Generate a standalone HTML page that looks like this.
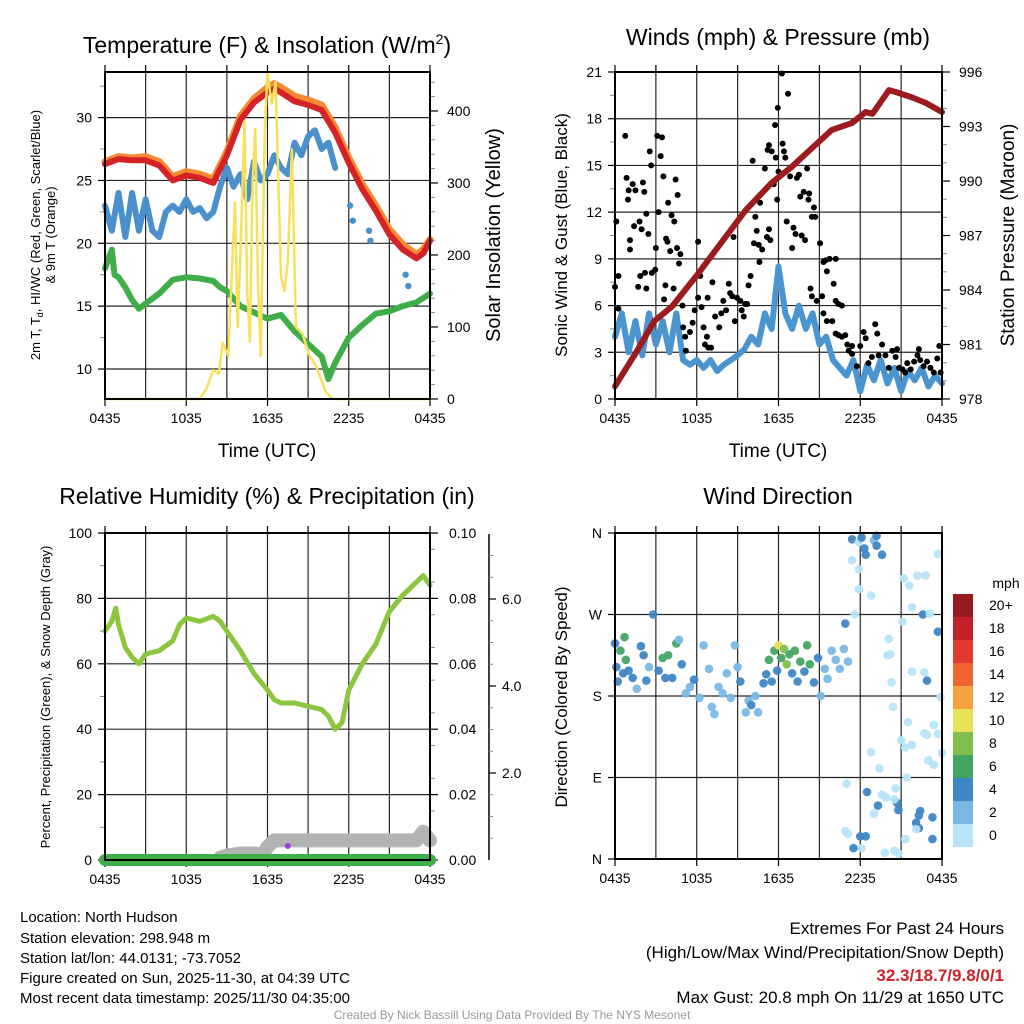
<!DOCTYPE html>
<html><head><meta charset="utf-8"><style>
html,body{margin:0;padding:0;background:#fff;}
svg{display:block;font-family:"Liberation Sans",Arial,sans-serif;}
</style></head><body>
<svg id="s" width="1024" height="1024" viewBox="0 0 1024 1024" xmlns="http://www.w3.org/2000/svg">
<g><text x="267" y="53" font-size="23" text-anchor="middle">Temperature (F) &amp; Insolation (W/m<tspan font-size="14" dy="-9">2</tspan><tspan dy="9">)</tspan></text></g>
<text x="778" y="45" font-size="23" text-anchor="middle">Winds (mph) &amp; Pressure (mb)</text>
<text x="267" y="504" font-size="23" text-anchor="middle">Relative Humidity (%) &amp; Precipitation (in)</text>
<text x="778" y="504" font-size="23" text-anchor="middle">Wind Direction</text>
<g font-size="13" text-anchor="middle">
<text transform="translate(40,235) rotate(-90)">2m T, T<tspan font-size="9" dy="3">d</tspan><tspan dy="-3">, HI/WC (Red, Green, Scarlet/Blue)</tspan></text>
<text transform="translate(55,235) rotate(-90)">&amp; 9m T (Orange)</text></g>
<text transform="translate(500,235) rotate(-90)" font-size="20" text-anchor="middle">Solar Insolation (Yellow)</text>
<text x="267" y="457" font-size="19" text-anchor="middle">Time (UTC)</text>
<text x="778" y="457" font-size="19" text-anchor="middle">Time (UTC)</text>
<text transform="translate(567,235) rotate(-90)" font-size="17" text-anchor="middle">Sonic Wind &amp; Gust (Blue, Black)</text>
<text transform="translate(1014,235) rotate(-90)" font-size="19" text-anchor="middle">Station Pressure (Maroon)</text>
<text transform="translate(50,697) rotate(-90)" font-size="13" text-anchor="middle">Percent, Precipitation (Green), &amp; Snow Depth (Gray)</text>
<text transform="translate(567,697) rotate(-90)" font-size="17" text-anchor="middle">Direction (Colored By Speed)</text>
<g font-size="15">
<text x="20" y="922">Location: North Hudson</text>
<text x="20" y="943">Station elevation: 298.948 m</text>
<text x="20" y="963">Station lat/lon: 44.0131; -73.7052</text>
<text x="20" y="983">Figure created on Sun, 2025-11-30, at 04:39 UTC</text>
<text x="20" y="1003">Most recent data timestamp: 2025/11/30 04:35:00</text></g>
<g font-size="17" text-anchor="end">
<text x="1004" y="934">Extremes For Past 24 Hours</text>
<text x="1004" y="958">(High/Low/Max Wind/Precipitation/Snow Depth)</text>
<text x="1004" y="981" fill="#cc2229" font-weight="bold">32.3/18.7/9.8/0/1</text>
<text x="1004" y="1003">Max Gust: 20.8 mph On 11/29 at 1650 UTC</text></g>
<text x="512" y="1019" font-size="12" fill="#999" text-anchor="middle">Created By Nick Bassill Using Data Provided By The NYS Mesonet</text>
<g id="p1"></g><g id="p2"></g><g id="p3"></g><g id="p4"></g>
</svg>
<script>
// ---- data ----
const xTickLabels = ["0435","1035","1635","2235","0435"];
const tempH = [0,1,2,3,4,4.5,5,6,7,8,9,10,11,12,12.5,13,14,15,16,17,18,19,20,21,22,23,23.5,24];
const temp2m = [26.3,26.7,26.6,26.6,26.2,25.6,25.0,25.4,25.2,24.8,27.0,29.8,31.2,32.0,32.3,32.0,31.3,31.0,30.6,28.8,26.4,24.3,22.6,20.7,19.5,18.8,19.2,20.2];
const temp9m = [26.5,26.9,26.8,26.9,26.5,25.9,25.3,25.7,25.5,25.1,27.3,30.1,31.5,32.4,32.7,32.4,31.7,31.4,31.0,29.2,26.8,24.7,23.0,21.1,19.9,19.1,19.5,20.3];
const dewH = [0,0.5,1,1.5,2,2.5,3,3.5,4,4.5,5,5.5,6,6.5,7,7.5,8,8.5,9,9.5,10,10.5,11,11.5,12,12.5,13,13.5,14,14.5,15,15.5,16,16.5,17];
const dewT = [23,21,24,20.5,24,21,23.5,21,20.5,22.5,23,22.5,23.5,22.5,22.8,22,22.5,24.5,26,24.5,25.5,23.5,26.5,25,25.5,27,26,25.5,28,27,28.5,29,27.5,28,26];
const dewLateH = [18.1,18.3,19.5,19.6,22.2,22.4];
const dewLateT = [23,21.8,21,20.2,17.5,16.6];
const wcH = [0,0.5,0.7,1,1.5,2,2.5,3,4,5,6,7,8,8.5,9,10,11,12,13,14,15,16,16.5,17,18,19,20,21,22,23,24];
const wcT = [18,19.5,17.5,17.3,16.5,15.5,14.8,15.2,16.0,17.1,17.3,17.2,17.0,16.5,16.2,15.0,14.5,14.0,14.3,13.0,12.0,11.0,9.2,10.5,12.5,13.5,14.4,14.6,15.0,15.3,16.0];
const solarH = [0,7.0,7.5,8.0,8.4,8.7,9.1,9.6,9.8,10.0,10.3,10.5,10.7,10.9,11.1,11.3,11.5,11.8,12.0,12.3,12.6,13.0,13.25,13.5,13.8,14.1,14.6,15.1,15.6,16.0,16.3,16.8,24];
const solarV = [0,0,15,40,35,78,60,273,100,200,386,150,80,300,375,160,60,372,454,410,440,170,150,190,347,100,90,60,45,25,10,0,0];
const windH = [0,0.5,1,1.5,2,2.5,3,3.5,4,4.5,5,5.5,6,6.5,7,7.5,8,8.5,9,9.5,10,10.5,11,11.5,12,12.5,13,13.5,14,14.5,15,15.5,16,16.5,17,17.5,18,18.5,19,19.5,20,20.5,21,21.5,22,22.5,23,23.5,24];
const windV = [4,5.5,3,5,2.8,5.5,3.5,5,3,5.5,2.5,2.2,2.5,2,2.5,1.8,2.2,2.5,2.8,3.2,4,3.5,5.5,4.5,8.5,5.5,4.5,6,4.5,5.5,3.5,4,2.5,2,1.5,2.5,0.5,2.2,1.2,2.5,1,2,0.5,1.8,1.2,2,0.8,1.5,1];
const presH = [0,1.5,2.9,4.2,6.1,7.4,9.6,11.5,13,14,15.9,17.4,18.4,18.9,20.1,20.6,21.8,22.8,24];
const presV = [978.7,980.5,982.3,983.1,984.9,986.2,988.4,989.9,990.8,991.5,992.8,993.2,993.8,993.7,995.0,994.9,994.6,994.3,993.8];
const gustH = [0.1,0,0.25,0.25,0.75,0.85,1.0,0.95,1.1,1.1,1.3,1.5,1.7,1.85,1.4,1.8,1.95,2.05,2.15,2.3,2.45,2.2,2.3,2.55,2.65,2.7,2.95,3.0,3.1,3.2,3.35,3.45,3.55,3.6,3.7,3.9,3.75,3.85,4.05,4.15,4.3,4.35,4.45,4.55,4.6,4.8,4.7,4.95,5.0,5.15,5.2,5.5,5.7,5.85,6.1,6.1,6.25,6.35,6.5,6.6,6.75,6.8,6.85,7.05,7.15,7.35,7.65,7.8,7.95,8.15,8.35,8.45,8.6,8.7,8.8,8.95,9.2,9.3,9.45,9.55,9.7,9.8,9.95,10.1,10.2,10.3,10.4,10.55,10.6,10.65,10.8,11.0,11.15,11.2,11.3,11.4,11.3,11.5,11.65,11.75,11.8,11.95,12.0,11.9,12.25,12.3,12.4,12.5,12.6,12.7,12.85,13.0,13.1,13.25,13.35,13.5,13.6,13.7,13.85,13.95,14.1,14.2,14.25,14.45,14.6,14.7,15.05,15.3,15.45,15.55,15.75,16.05,16.2,16.2,16.4,16.65,14.35,14.45,14.8,15.2,15.3,15.55,15.95,16.2,16.4,16.65,16.9,17.05,17.15,17.4,17.4,17.75,18.0,18.25,18.4,18.6,18.85,19.1,19.25,19.35,19.6,19.85,20.1,20.35,20.6,20.7,20.85,21.1,21.3,21.45,21.7,21.95,22.2,22.3,22.4,22.65,22.9,23.15,23.4,23.65,23.8,23.9];
const gustV = [11.4,7.2,7.9,5.8,16.9,14.2,13.4,12.8,10.2,9.6,13.8,13.4,7.2,7.9,11.1,11.4,10.9,13.9,13.3,11.9,10.6,8.1,7.1,15.9,15.0,8.1,8.3,9.7,16.9,12.0,15.6,16.8,14.3,6.4,7.3,12.6,10.3,10.1,9.5,11.8,7.1,11.4,14.1,9.7,13.1,9.3,8.7,6.0,4.6,4.0,3.1,4.3,4.9,5.7,6.5,10.1,7.9,5.9,4.6,3.5,4.0,6.5,3.3,3.3,7.5,5.3,4.6,5.5,6.3,5.7,7.4,6.8,6.6,10.4,5.0,6.5,6.3,5.7,5.3,6.1,6.1,7.3,7.9,15.3,10.0,11.7,10.8,9.9,8.8,12.6,9.6,14.8,10.4,16.0,10.9,10.2,16.3,15.9,13.8,17.6,15.5,18.7,14.6,12.8,20.9,16.4,15.9,15.5,11.4,19.6,14.3,9.7,11.0,10.6,14.2,14.4,13.0,10.5,13.3,10.2,14.8,12.8,13.2,11.7,12.3,11.7,10.0,8.8,8.9,8.2,9.0,7.4,9.0,6.3,6.1,6.0,7.1,6.6,6.3,6.6,5.5,5.0,5.0,4.2,4.1,4.0,4.1,3.5,3.1,3.4,2.9,2.1,3.4,4.3,3.9,2.3,2.7,4.8,4.2,2.8,3.5,2.8,2.0,3.1,2.7,3.2,2.0,1.9,1.7,2.3,1.9,2.4,2.8,3.2,2.5,2.1,2.4,2.0,1.7,2.6,3.4,1.7];
const rhH = [0,0.5,0.8,1,1.5,2,2.5,3,4,5,5.5,6,7,8,8.5,9,10,11,12,12.5,13,14,15,16,16.5,17,17.5,18,19,20,21,22,23,23.5,24];
const rhV = [70,73,77,72,65,62,60,63,64,67,72,74,73,74.5,73,70,64,57,52,49,48,48,47,46,44,40,42,52,60,66,76,81,85,87,84];
const precipH = [0,24];
const precipV = [0,0];
const snowH = [8.5,9,10,11,11.6,12,12.5,13,14,15,16,17,18,19,20,21,22,23,23.5,24];
const snowV = [0.05,0.1,0.15,0.15,0.12,0.3,0.45,0.45,0.45,0.45,0.45,0.45,0.45,0.45,0.45,0.45,0.45,0.45,0.65,0.45];
const dirH = [0,0.1,0.2,0.4,0.6,0.7,0.8,1.0,1.3,1.6,1.9,2.1,2.3,2.5,2.8,3.2,3.5,3.7,3.9,4.2,4.5,4.7,4.9,5.2,5.5,5.8,6.2,6.5,6.9,7.1,7.3,7.6,7.9,8.2,8.5,8.8,9.0,9.2,9.6,9.8,10.0,10.3,10.5,10.9,11.1,11.3,11.5,11.7,11.9,12.0,12.2,12.4,12.6,12.8,13.0,13.2,13.4,13.6,13.9,14.1,14.3,14.6,14.9,15.1,15.4,15.6,15.9,16.2,16.5,16.8,17.1,16.9,17.4,17.4,17.9,18.1,18.3,18.4,19.0,19.2,19.2,19.6,17.9,17.9,18.8,17.6,23.7,21.2,22.2,22.8,21.6,21.8,22.6,23.1,21.1,23.7,20.1,20.2,21.8,20.0,22.7,20.3,23.9,22.9,20.4,23.4,21.5,22.7,22.9,21.0,21.8,24,23.7,18.8,21.3,23.0,23.4,19.4,21.4,17.0,18.5,19.9,20.6,19.6,20.7,19.3,20.8,19.0,22.3,22.4,23.3,20.5,22.1,22.3,16.9,17.1,18.0,18.4,22.1,23.3,21.3,18.1,17.5,19.8,20.5,20.8];
const dirD = [238,212,196,230,205,245,220,208,200,188,235,225,197,212,270,208,222,200,225,200,238,242,215,183,190,198,178,236,210,168,160,190,183,205,178,236,212,196,162,175,170,180,162,194,204,220,196,230,208,236,222,232,215,226,205,230,196,218,207,236,215,195,222,180,210,199,230,220,210,232,218,260,353,330,350,355,343,336,352,357,346,336,320,298,291,270,337,310,313,313,302,278,270,271,262,251,243,226,207,225,206,195,179,197,168,148,151,139,137,131,126,117,138,118,123,109,104,100,90,83,74,68,78,71,62,59,54,50,48,53,46,66,40,34,31,28,25,25,33,22,22,12,12,7,9,6];
const dirS = [4,4,4,6,3,6,6,4,3,2,4,4,3,2,4,4,6,3,6,4,6,2,4,2,2,3,2,2,2,2,2,2,2,2,2,2,2,4,2,2,4,2,2,4,4,6,4,6,4,10,6,8,8,6,4,6,4,6,4,6,6,3,4,2,2,2,2,2,2,2,2,4,4,0,0,4,4,4,2,4,4,4,0,0,0,0,0,0,0,0,0,0,4,0,0,4,0,0,0,0,0,0,0,4,0,0,0,0,0,0,0,0,0,0,0,0,0,0,0,0,4,0,0,0,4,4,4,0,4,4,4,0,4,4,0,0,4,4,0,4,0,0,4,0,0,0,0];
const cbLabels = ["20+","18","16","14","12","10","8","6","4","2","0"];
const cbColors = ["#951b1e","#c4202a","#e1392b","#ef6430","#f6a241","#e8e258","#7fbf4b","#44a462","#3e87c4","#79b8e4","#b7e4f8"];

const NS="http://www.w3.org/2000/svg";
function el(parent,tag,attrs,txt){const e=document.createElementNS(NS,tag);for(const k in attrs)e.setAttribute(k,attrs[k]);if(txt!==undefined)e.textContent=txt;parent.appendChild(e);return e;}
function pathOf(hs,vs,X,Y){return hs.map((h,i)=>(i?'L':'M')+X(h).toFixed(1)+','+Y(vs[i]).toFixed(1)).join(' ');}
function frame(g,x0,y0,x1,y1,yVals,Y,labels,X,nameP){
  for(let h=0;h<=24;h+=3){const x=X(h);el(g,'line',{x1:x,y1:y0,x2:x,y2:y1,stroke:'#000','stroke-width':1.2,opacity:0.85});}
  yVals.forEach((v,i)=>{const y=Y(v);el(g,'line',{x1:x0,y1:y,x2:x1,y2:y,stroke:'#000','stroke-width':1.2,opacity:0.85});
    el(g,'line',{x1:x0-7,y1:y,x2:x0,y2:y,stroke:'#000','stroke-width':1.2});
    if(labels){const t=el(g,'text',{x:x0-13,y:y+5,'font-size':14,'text-anchor':'end'},labels[i]);
      
      }});
  xTickLabels.forEach((l,i)=>{const x=X(i*6);el(g,'line',{x1:x,y1:y1,x2:x,y2:y1+7,stroke:'#000','stroke-width':1.2});
    const t=el(g,'text',{x:x,y:y1+24,'font-size':14,'text-anchor':'middle'},l);
    
    });
  for(let h=0;h<=24;h+=3){el(g,'line',{x1:X(h),y1:y0,x2:X(h),y2:y0-7,stroke:'#000','stroke-width':1.2});}
}
function border(g,x0,y0,x1,y1){const r=el(g,'rect',{x:x0,y:y0,width:x1-x0,height:y1-y0,fill:'none',stroke:'#000','stroke-width':2});
  
  }

// ---- panel 1 ----
(function(){
const g=document.getElementById('p1');
const x0=105,x1=430,y0=72,y1=399;
const X=h=>x0+h*(x1-x0)/24, Y=t=>369-(t-10)*12.57, YS=v=>y1-v*0.72;
frame(g,x0,y0,x1,y1,[10,15,20,25,30],Y,["10","15","20","25","30"],X,'temp');
[0,100,200,300,400].forEach(v=>{const y=YS(v);el(g,'line',{x1:x1,y1:y,x2:x1+8,y2:y,stroke:'#000','stroke-width':1.2});
  const t=el(g,'text',{x:x1+17,y:y+5,'font-size':14},String(v));
  
  });
for(let v=20;v<450;v+=20){if(v%100){const y=YS(v);el(g,'line',{x1:x1,y1:y,x2:x1+5,y2:y,stroke:'#888','stroke-width':1});}}
for(let v=12.5;v<34;v+=2.5){if(v%5){const y=Y(v);el(g,'line',{x1:x0-5,y1:y,x2:x0,y2:y,stroke:'#888','stroke-width':1});}}
let p;
p=el(g,'path',{d:pathOf(wcH,wcT,X,Y),fill:'none',stroke:'#3fae49','stroke-width':6,'stroke-linejoin':'round','stroke-linecap':'round'});


p=el(g,'path',{d:pathOf(dewH,dewT,X,Y),fill:'none',stroke:'#4a90cc','stroke-width':6,'stroke-linejoin':'round','stroke-linecap':'round'});


dewLateH.forEach((h,i)=>{const c=el(g,'circle',{cx:X(h),cy:Y(dewLateT[i]),r:3.2,fill:'#4a90cc'});
  
  });
p=el(g,'path',{d:pathOf(tempH,temp9m,X,Y),fill:'none',stroke:'#f58a32','stroke-width':7,'stroke-linejoin':'round','stroke-linecap':'round'});


p=el(g,'path',{d:pathOf(tempH,temp2m,X,Y),fill:'none',stroke:'#d42226','stroke-width':6,'stroke-linejoin':'round','stroke-linecap':'round'});


p=el(g,'path',{d:pathOf(solarH,solarV,X,YS),fill:'none',stroke:'#f8e15a','stroke-width':2.5,'stroke-linejoin':'round'});


border(g,x0,y0,x1,y1);
})();

// ---- panel 2 ----
(function(){
const g=document.getElementById('p2');
const x0=615,x1=942,y0=72,y1=399;
const X=h=>x0+h*(x1-x0)/24, Y=w=>y1-w*(y1-y0)/21, YP=p=>y1-(p-978)*(y1-y0)/18;
frame(g,x0,y0,x1,y1,[0,3,6,9,12,15,18,21],Y,["0","3","6","9","12","15","18","21"],X,'wind');
[978,981,984,987,990,993,996].forEach(v=>{const y=YP(v);el(g,'line',{x1:x1,y1:y,x2:x1+8,y2:y,stroke:'#000','stroke-width':1.2});
  const t=el(g,'text',{x:x1+17,y:y+5,'font-size':14},String(v));
  
  });
for(let v=979;v<996;v++){if(v%3){const y=YP(v);el(g,'line',{x1:x1,y1:y,x2:x1+5,y2:y,stroke:'#888','stroke-width':1});}}
for(let v=1.5;v<21;v+=3){const y=Y(v);el(g,'line',{x1:x0-5,y1:y,x2:x0,y2:y,stroke:'#888','stroke-width':1});}
let p=el(g,'path',{d:pathOf(windH,windV,X,Y),fill:'none',stroke:'#4a95d0','stroke-width':6,'stroke-linejoin':'round','stroke-linecap':'round'});


gustH.forEach((h,i)=>{const c=el(g,'circle',{cx:X(h),cy:Y(gustV[i]),r:3,fill:'#000'});
  
  });
p=el(g,'path',{d:pathOf(presH,presV,X,YP),fill:'none',stroke:'#9b1b1f','stroke-width':6,'stroke-linejoin':'round','stroke-linecap':'round'});


border(g,x0,y0,x1,y1);
})();

// ---- panel 3 ----
(function(){
const g=document.getElementById('p3');
const x0=105,x1=430,y0=533,y1=860;
const X=h=>x0+h*(x1-x0)/24, Y=v=>y1-v*(y1-y0)/100, YPr=v=>y1-v*(y1-y0)/0.1, YSn=v=>y1-v*43.5;
frame(g,x0,y0,x1,y1,[0,20,40,60,80,100],Y,["0","20","40","60","80","100"],X,'rh');
for(let v=10;v<100;v+=20){const y=Y(v);el(g,'line',{x1:x0-5,y1:y,x2:x0,y2:y,stroke:'#888','stroke-width':1});}
[0,0.02,0.04,0.06,0.08,0.10].forEach(v=>{const y=YPr(v);el(g,'line',{x1:x1,y1:y,x2:x1+8,y2:y,stroke:'#000','stroke-width':1.2});
  const t=el(g,'text',{x:x1+19,y:y+5,'font-size':14},v.toFixed(2));
  
  });
for(let v=0.005;v<0.1;v+=0.01){const y=YPr(v);el(g,'line',{x1:x1,y1:y,x2:x1+5,y2:y,stroke:'#888','stroke-width':1});}
el(g,'line',{x1:489,y1:y0+1,x2:489,y2:y1,stroke:'#000','stroke-width':1.5});
[2,4,6].forEach(v=>{const y=YSn(v);el(g,'line',{x1:489,y1:y,x2:496,y2:y,stroke:'#000','stroke-width':1.2});
  const t=el(g,'text',{x:502,y:y+5,'font-size':14},v.toFixed(1));
  
  });
for(let v=0.5;v<7.5;v+=0.5){if(v%2){const y=YSn(v);el(g,'line',{x1:489,y1:y,x2:493,y2:y,stroke:'#888','stroke-width':1});}}
let p=el(g,'path',{d:pathOf(snowH,snowV,X,YSn),fill:'none',stroke:'#b3b3b3','stroke-width':14,'stroke-linejoin':'round','stroke-linecap':'round'});


p=el(g,'path',{d:pathOf(precipH,precipV,X,YPr),fill:'none',stroke:'#3fae49','stroke-width':12,'stroke-linecap':'round'});


const m=el(g,'circle',{cx:X(13.5),cy:y1-14,r:3,fill:'#a03ee6'});


p=el(g,'path',{d:pathOf(rhH,rhV,X,Y),fill:'none',stroke:'#8cc63f','stroke-width':5,'stroke-linejoin':'round','stroke-linecap':'round'});


border(g,x0,y0,x1,y1);
})();

// ---- panel 4 ----
(function(){
const g=document.getElementById('p4');
const x0=615,x1=942,y0=533,y1=859;
const X=h=>x0+h*(x1-x0)/24, Y=d=>y1-d*(y1-y0)/360;
frame(g,x0,y0,x1,y1,[0,90,180,270,360],Y,["N","E","S","W","N"],X,'direction');
const col=s=>cbColors[10-Math.min(10,Math.round(s/2))];
dirH.forEach((h,i)=>{const c=el(g,'circle',{cx:X(h),cy:Y(dirD[i]),r:4.3,fill:col(dirS[i]),opacity:0.95});
  
  });
border(g,x0,y0,x1,y1);
const lg=el(g,'g',{});


const t=el(lg,'text',{x:1006,y:588,'font-size':14,'text-anchor':'middle'},'mph');
cbColors.forEach((c,i)=>{const y=594+i*23;el(lg,'rect',{x:953,y:y,width:20,height:23,fill:c});
  const tt=el(lg,'text',{x:989,y:y+16,'font-size':14},cbLabels[i]);
  
  });
})();
</script>
</body></html>
